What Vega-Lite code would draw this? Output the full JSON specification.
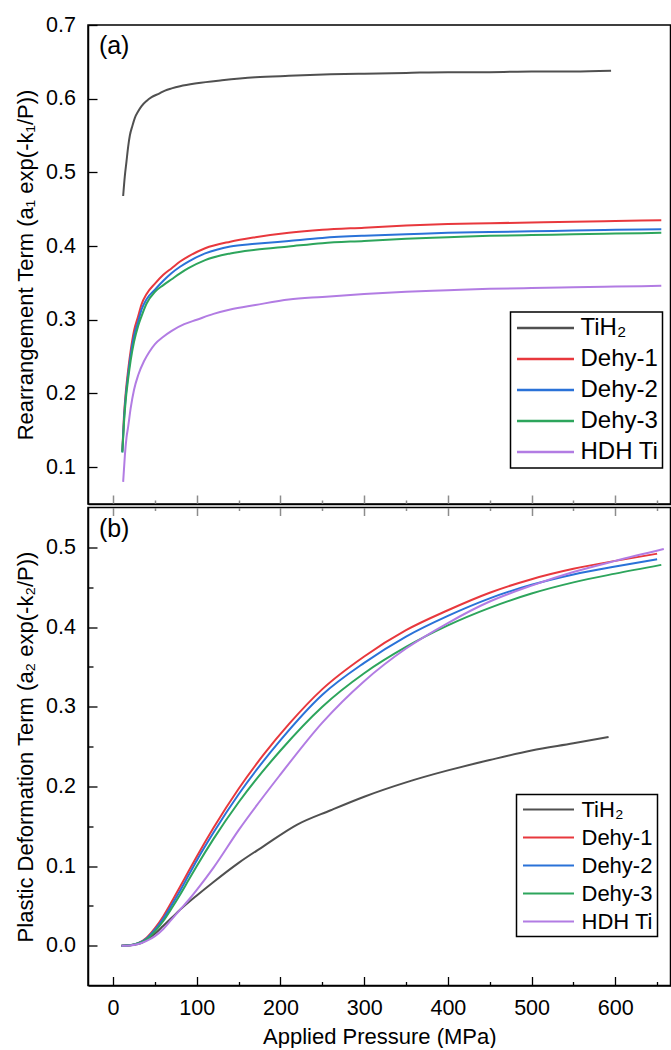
{
  "$schema": "https://vega.github.io/schema/vega-lite/v6.json",
  "background": "white",
  "padding": {"left": 13, "top": 13, "right": 0, "bottom": 0},
  "bounds": "flush",
  "spacing": 3.5,
  "datasets": {
    "a": [
      {"p": 12, "v": 0.468, "s": "TiH₂"}, {"p": 14, "v": 0.495, "s": "TiH₂"}, {"p": 16, "v": 0.515, "s": "TiH₂"}, {"p": 18, "v": 0.535, "s": "TiH₂"}, {"p": 20, "v": 0.55, "s": "TiH₂"}, {"p": 23, "v": 0.563, "s": "TiH₂"}, {"p": 26, "v": 0.574, "s": "TiH₂"}, {"p": 30, "v": 0.583, "s": "TiH₂"}, {"p": 34, "v": 0.59, "s": "TiH₂"}, {"p": 40, "v": 0.597, "s": "TiH₂"}, {"p": 46, "v": 0.602, "s": "TiH₂"}, {"p": 55, "v": 0.607, "s": "TiH₂"}, {"p": 62, "v": 0.611, "s": "TiH₂"}, {"p": 70, "v": 0.614, "s": "TiH₂"}, {"p": 80, "v": 0.617, "s": "TiH₂"}, {"p": 100, "v": 0.621, "s": "TiH₂"}, {"p": 130, "v": 0.625, "s": "TiH₂"}, {"p": 170, "v": 0.629, "s": "TiH₂"}, {"p": 210, "v": 0.631, "s": "TiH₂"}, {"p": 260, "v": 0.633, "s": "TiH₂"}, {"p": 300, "v": 0.634, "s": "TiH₂"}, {"p": 350, "v": 0.635, "s": "TiH₂"}, {"p": 400, "v": 0.636, "s": "TiH₂"}, {"p": 450, "v": 0.636, "s": "TiH₂"}, {"p": 500, "v": 0.637, "s": "TiH₂"}, {"p": 550, "v": 0.637, "s": "TiH₂"}, {"p": 595, "v": 0.638, "s": "TiH₂"},
      {"p": 11, "v": 0.122, "s": "Dehy-1"}, {"p": 13, "v": 0.17, "s": "Dehy-1"}, {"p": 15, "v": 0.2, "s": "Dehy-1"}, {"p": 18, "v": 0.232, "s": "Dehy-1"}, {"p": 21, "v": 0.258, "s": "Dehy-1"}, {"p": 25, "v": 0.285, "s": "Dehy-1"}, {"p": 30, "v": 0.305, "s": "Dehy-1"}, {"p": 34, "v": 0.321, "s": "Dehy-1"}, {"p": 40, "v": 0.335, "s": "Dehy-1"}, {"p": 50, "v": 0.349, "s": "Dehy-1"}, {"p": 60, "v": 0.361, "s": "Dehy-1"}, {"p": 70, "v": 0.37, "s": "Dehy-1"}, {"p": 80, "v": 0.379, "s": "Dehy-1"}, {"p": 90, "v": 0.386, "s": "Dehy-1"}, {"p": 110, "v": 0.397, "s": "Dehy-1"}, {"p": 140, "v": 0.406, "s": "Dehy-1"}, {"p": 170, "v": 0.412, "s": "Dehy-1"}, {"p": 210, "v": 0.418, "s": "Dehy-1"}, {"p": 250, "v": 0.422, "s": "Dehy-1"}, {"p": 300, "v": 0.425, "s": "Dehy-1"}, {"p": 350, "v": 0.428, "s": "Dehy-1"}, {"p": 400, "v": 0.43, "s": "Dehy-1"}, {"p": 450, "v": 0.431, "s": "Dehy-1"}, {"p": 500, "v": 0.432, "s": "Dehy-1"}, {"p": 550, "v": 0.433, "s": "Dehy-1"}, {"p": 600, "v": 0.434, "s": "Dehy-1"}, {"p": 655, "v": 0.435, "s": "Dehy-1"},
      {"p": 11, "v": 0.12, "s": "Dehy-2"}, {"p": 13, "v": 0.165, "s": "Dehy-2"}, {"p": 15, "v": 0.195, "s": "Dehy-2"}, {"p": 18, "v": 0.226, "s": "Dehy-2"}, {"p": 21, "v": 0.252, "s": "Dehy-2"}, {"p": 25, "v": 0.278, "s": "Dehy-2"}, {"p": 30, "v": 0.298, "s": "Dehy-2"}, {"p": 34, "v": 0.314, "s": "Dehy-2"}, {"p": 40, "v": 0.328, "s": "Dehy-2"}, {"p": 50, "v": 0.341, "s": "Dehy-2"}, {"p": 60, "v": 0.353, "s": "Dehy-2"}, {"p": 70, "v": 0.3635, "s": "Dehy-2"}, {"p": 80, "v": 0.372, "s": "Dehy-2"}, {"p": 90, "v": 0.379, "s": "Dehy-2"}, {"p": 110, "v": 0.39, "s": "Dehy-2"}, {"p": 140, "v": 0.3995, "s": "Dehy-2"}, {"p": 170, "v": 0.403, "s": "Dehy-2"}, {"p": 210, "v": 0.407, "s": "Dehy-2"}, {"p": 250, "v": 0.411, "s": "Dehy-2"}, {"p": 300, "v": 0.414, "s": "Dehy-2"}, {"p": 350, "v": 0.416, "s": "Dehy-2"}, {"p": 400, "v": 0.418, "s": "Dehy-2"}, {"p": 450, "v": 0.419, "s": "Dehy-2"}, {"p": 500, "v": 0.42, "s": "Dehy-2"}, {"p": 550, "v": 0.421, "s": "Dehy-2"}, {"p": 600, "v": 0.422, "s": "Dehy-2"}, {"p": 655, "v": 0.423, "s": "Dehy-2"},
      {"p": 11, "v": 0.12, "s": "Dehy-3"}, {"p": 13, "v": 0.16, "s": "Dehy-3"}, {"p": 15, "v": 0.19, "s": "Dehy-3"}, {"p": 18, "v": 0.22, "s": "Dehy-3"}, {"p": 21, "v": 0.245, "s": "Dehy-3"}, {"p": 25, "v": 0.27, "s": "Dehy-3"}, {"p": 30, "v": 0.292, "s": "Dehy-3"}, {"p": 34, "v": 0.305, "s": "Dehy-3"}, {"p": 40, "v": 0.322, "s": "Dehy-3"}, {"p": 50, "v": 0.338, "s": "Dehy-3"}, {"p": 60, "v": 0.347, "s": "Dehy-3"}, {"p": 70, "v": 0.355, "s": "Dehy-3"}, {"p": 80, "v": 0.363, "s": "Dehy-3"}, {"p": 90, "v": 0.37, "s": "Dehy-3"}, {"p": 110, "v": 0.381, "s": "Dehy-3"}, {"p": 140, "v": 0.39, "s": "Dehy-3"}, {"p": 170, "v": 0.395, "s": "Dehy-3"}, {"p": 210, "v": 0.3995, "s": "Dehy-3"}, {"p": 250, "v": 0.404, "s": "Dehy-3"}, {"p": 300, "v": 0.407, "s": "Dehy-3"}, {"p": 350, "v": 0.41, "s": "Dehy-3"}, {"p": 400, "v": 0.412, "s": "Dehy-3"}, {"p": 450, "v": 0.414, "s": "Dehy-3"}, {"p": 500, "v": 0.415, "s": "Dehy-3"}, {"p": 550, "v": 0.416, "s": "Dehy-3"}, {"p": 600, "v": 0.417, "s": "Dehy-3"}, {"p": 655, "v": 0.418, "s": "Dehy-3"},
      {"p": 12, "v": 0.08, "s": "HDH Ti"}, {"p": 14, "v": 0.115, "s": "HDH Ti"}, {"p": 16, "v": 0.14, "s": "HDH Ti"}, {"p": 18, "v": 0.155, "s": "HDH Ti"}, {"p": 21, "v": 0.18, "s": "HDH Ti"}, {"p": 25, "v": 0.205, "s": "HDH Ti"}, {"p": 30, "v": 0.225, "s": "HDH Ti"}, {"p": 37, "v": 0.244, "s": "HDH Ti"}, {"p": 43, "v": 0.256, "s": "HDH Ti"}, {"p": 50, "v": 0.267, "s": "HDH Ti"}, {"p": 60, "v": 0.277, "s": "HDH Ti"}, {"p": 70, "v": 0.285, "s": "HDH Ti"}, {"p": 85, "v": 0.294, "s": "HDH Ti"}, {"p": 100, "v": 0.3, "s": "HDH Ti"}, {"p": 120, "v": 0.308, "s": "HDH Ti"}, {"p": 140, "v": 0.314, "s": "HDH Ti"}, {"p": 170, "v": 0.32, "s": "HDH Ti"}, {"p": 210, "v": 0.3275, "s": "HDH Ti"}, {"p": 250, "v": 0.331, "s": "HDH Ti"}, {"p": 300, "v": 0.335, "s": "HDH Ti"}, {"p": 350, "v": 0.338, "s": "HDH Ti"}, {"p": 400, "v": 0.34, "s": "HDH Ti"}, {"p": 450, "v": 0.342, "s": "HDH Ti"}, {"p": 500, "v": 0.343, "s": "HDH Ti"}, {"p": 550, "v": 0.344, "s": "HDH Ti"}, {"p": 600, "v": 0.345, "s": "HDH Ti"}, {"p": 655, "v": 0.346, "s": "HDH Ti"}
    ],
    "b": [
      {"p": 10, "v": 0, "s": "TiH₂"}, {"p": 20, "v": 0.0005, "s": "TiH₂"}, {"p": 30, "v": 0.002, "s": "TiH₂"}, {"p": 40, "v": 0.007, "s": "TiH₂"}, {"p": 50, "v": 0.015, "s": "TiH₂"}, {"p": 60, "v": 0.025, "s": "TiH₂"}, {"p": 70, "v": 0.035, "s": "TiH₂"}, {"p": 80, "v": 0.045, "s": "TiH₂"}, {"p": 100, "v": 0.063, "s": "TiH₂"}, {"p": 120, "v": 0.08, "s": "TiH₂"}, {"p": 150, "v": 0.104, "s": "TiH₂"}, {"p": 180, "v": 0.125, "s": "TiH₂"}, {"p": 220, "v": 0.152, "s": "TiH₂"}, {"p": 260, "v": 0.17, "s": "TiH₂"}, {"p": 300, "v": 0.187, "s": "TiH₂"}, {"p": 350, "v": 0.205, "s": "TiH₂"}, {"p": 400, "v": 0.22, "s": "TiH₂"}, {"p": 450, "v": 0.233, "s": "TiH₂"}, {"p": 500, "v": 0.245, "s": "TiH₂"}, {"p": 550, "v": 0.254, "s": "TiH₂"}, {"p": 592, "v": 0.262, "s": "TiH₂"},
      {"p": 10, "v": 0, "s": "Dehy-1"}, {"p": 20, "v": 0.0005, "s": "Dehy-1"}, {"p": 30, "v": 0.003, "s": "Dehy-1"}, {"p": 40, "v": 0.01, "s": "Dehy-1"}, {"p": 50, "v": 0.022, "s": "Dehy-1"}, {"p": 60, "v": 0.037, "s": "Dehy-1"}, {"p": 70, "v": 0.055, "s": "Dehy-1"}, {"p": 80, "v": 0.074, "s": "Dehy-1"}, {"p": 90, "v": 0.093, "s": "Dehy-1"}, {"p": 100, "v": 0.112, "s": "Dehy-1"}, {"p": 120, "v": 0.148, "s": "Dehy-1"}, {"p": 150, "v": 0.197, "s": "Dehy-1"}, {"p": 180, "v": 0.24, "s": "Dehy-1"}, {"p": 210, "v": 0.278, "s": "Dehy-1"}, {"p": 250, "v": 0.322, "s": "Dehy-1"}, {"p": 300, "v": 0.363, "s": "Dehy-1"}, {"p": 350, "v": 0.396, "s": "Dehy-1"}, {"p": 400, "v": 0.421, "s": "Dehy-1"}, {"p": 450, "v": 0.443, "s": "Dehy-1"}, {"p": 500, "v": 0.46, "s": "Dehy-1"}, {"p": 550, "v": 0.473, "s": "Dehy-1"}, {"p": 600, "v": 0.483, "s": "Dehy-1"}, {"p": 650, "v": 0.492, "s": "Dehy-1"},
      {"p": 10, "v": 0, "s": "Dehy-2"}, {"p": 20, "v": 0.0005, "s": "Dehy-2"}, {"p": 30, "v": 0.003, "s": "Dehy-2"}, {"p": 40, "v": 0.009, "s": "Dehy-2"}, {"p": 50, "v": 0.02, "s": "Dehy-2"}, {"p": 60, "v": 0.034, "s": "Dehy-2"}, {"p": 70, "v": 0.051, "s": "Dehy-2"}, {"p": 80, "v": 0.069, "s": "Dehy-2"}, {"p": 90, "v": 0.088, "s": "Dehy-2"}, {"p": 100, "v": 0.107, "s": "Dehy-2"}, {"p": 120, "v": 0.142, "s": "Dehy-2"}, {"p": 150, "v": 0.19, "s": "Dehy-2"}, {"p": 200, "v": 0.258, "s": "Dehy-2"}, {"p": 250, "v": 0.315, "s": "Dehy-2"}, {"p": 300, "v": 0.355, "s": "Dehy-2"}, {"p": 350, "v": 0.388, "s": "Dehy-2"}, {"p": 400, "v": 0.414, "s": "Dehy-2"}, {"p": 450, "v": 0.436, "s": "Dehy-2"}, {"p": 500, "v": 0.453, "s": "Dehy-2"}, {"p": 550, "v": 0.466, "s": "Dehy-2"}, {"p": 600, "v": 0.476, "s": "Dehy-2"}, {"p": 650, "v": 0.485, "s": "Dehy-2"},
      {"p": 10, "v": 0, "s": "Dehy-3"}, {"p": 20, "v": 0.0005, "s": "Dehy-3"}, {"p": 30, "v": 0.003, "s": "Dehy-3"}, {"p": 40, "v": 0.008, "s": "Dehy-3"}, {"p": 50, "v": 0.018, "s": "Dehy-3"}, {"p": 60, "v": 0.031, "s": "Dehy-3"}, {"p": 70, "v": 0.047, "s": "Dehy-3"}, {"p": 80, "v": 0.064, "s": "Dehy-3"}, {"p": 90, "v": 0.082, "s": "Dehy-3"}, {"p": 100, "v": 0.1, "s": "Dehy-3"}, {"p": 120, "v": 0.134, "s": "Dehy-3"}, {"p": 150, "v": 0.18, "s": "Dehy-3"}, {"p": 200, "v": 0.245, "s": "Dehy-3"}, {"p": 250, "v": 0.3, "s": "Dehy-3"}, {"p": 300, "v": 0.342, "s": "Dehy-3"}, {"p": 350, "v": 0.375, "s": "Dehy-3"}, {"p": 400, "v": 0.402, "s": "Dehy-3"}, {"p": 450, "v": 0.424, "s": "Dehy-3"}, {"p": 500, "v": 0.442, "s": "Dehy-3"}, {"p": 550, "v": 0.456, "s": "Dehy-3"}, {"p": 600, "v": 0.467, "s": "Dehy-3"}, {"p": 655, "v": 0.478, "s": "Dehy-3"},
      {"p": 10, "v": 0, "s": "HDH Ti"}, {"p": 20, "v": 0.0003, "s": "HDH Ti"}, {"p": 30, "v": 0.002, "s": "HDH Ti"}, {"p": 40, "v": 0.006, "s": "HDH Ti"}, {"p": 50, "v": 0.012, "s": "HDH Ti"}, {"p": 60, "v": 0.021, "s": "HDH Ti"}, {"p": 70, "v": 0.033, "s": "HDH Ti"}, {"p": 80, "v": 0.045, "s": "HDH Ti"}, {"p": 90, "v": 0.057, "s": "HDH Ti"}, {"p": 100, "v": 0.07, "s": "HDH Ti"}, {"p": 120, "v": 0.098, "s": "HDH Ti"}, {"p": 150, "v": 0.145, "s": "HDH Ti"}, {"p": 200, "v": 0.215, "s": "HDH Ti"}, {"p": 250, "v": 0.28, "s": "HDH Ti"}, {"p": 300, "v": 0.332, "s": "HDH Ti"}, {"p": 350, "v": 0.373, "s": "HDH Ti"}, {"p": 400, "v": 0.405, "s": "HDH Ti"}, {"p": 450, "v": 0.432, "s": "HDH Ti"}, {"p": 500, "v": 0.452, "s": "HDH Ti"}, {"p": 550, "v": 0.469, "s": "HDH Ti"}, {"p": 600, "v": 0.483, "s": "HDH Ti"}, {"p": 658, "v": 0.498, "s": "HDH Ti"}
    ],
    "la": [{"t": "(a)", "p": -17, "v": 0.671}],
    "lb": [{"t": "(b)", "p": -17, "v": 0.523}]
  },
  "vconcat": [
    {
      "width": 582.5,
      "height": 479,
      "layer": [
        {
          "data": {"name": "a"},
          "mark": {"type": "line", "strokeWidth": 2, "interpolate": "monotone"},
          "encoding": {
            "x": {"field": "p", "type": "quantitative", "scale": {"domain": [-30, 666], "nice": false, "zero": false},
              "axis": {"orient": "bottom", "title": null, "labels": false, "values": [0, 50, 100, 150, 200, 250, 300, 350, 400, 450, 500, 550, 600, 650],
                "tickColor": "#8c8c8c", "tickWidth": 1.5,
                "tickSize": {"condition": {"test": "datum.value % 100 == 0", "value": -9}, "value": -4}}},
            "y": {"field": "v", "type": "quantitative", "scale": {"domain": [0.05, 0.7], "nice": false, "zero": false},
              "axis": {"title": "Rearrangement Term (a₁ exp(-k₁/P))", "titlePadding": 8,
                "values": [0.1, 0.15, 0.2, 0.25, 0.3, 0.35, 0.4, 0.45, 0.5, 0.55, 0.6, 0.65, 0.7],
                "labelExpr": "round(datum.value*100) % 10 == 0 ? format(datum.value, '.1f') : ''",
                "labelPadding": 21.5,
                "tickSize": {"condition": {"test": "round(datum.value*100) % 10 == 0", "value": -9}, "value": -5}}},
            "color": {"field": "s", "type": "nominal",
              "scale": {"domain": ["TiH₂", "Dehy-1", "Dehy-2", "Dehy-3", "HDH Ti"], "range": ["#505050", "#e8383d", "#2a72d8", "#2da55c", "#b27ce3"]},
              "legend": {"orient": "none", "legendX": 422.5, "legendY": 287, "title": null, "labelFontSize": 24, "symbolType": "M-1,0H5", "symbolSize": 361, "symbolStrokeWidth": 2.5, "rowPadding": 7, "padding": 4, "labelOffset": 42, "strokeColor": "black",
                "encode": {"legend": {"update": {"strokeWidth": {"value": 1.5}}}}}}
          }
        },
        {
          "data": {"name": "la"},
          "mark": {"type": "text", "align": "left", "baseline": "middle", "fontSize": 25, "font": "Liberation Sans"},
          "encoding": {
            "x": {"field": "p", "type": "quantitative"},
            "y": {"field": "v", "type": "quantitative"},
            "text": {"field": "t"}
          }
        }
      ]
    },
    {
      "width": 582.5,
      "height": 478,
      "layer": [
        {
          "data": {"name": "b"},
          "mark": {"type": "line", "strokeWidth": 2, "interpolate": "monotone"},
          "encoding": {
            "x": {"field": "p", "type": "quantitative", "scale": {"domain": [-30, 666], "nice": false, "zero": false},
              "axis": {"orient": "bottom", "title": "Applied Pressure (MPa)", "titlePadding": 2, "values": [0, 50, 100, 150, 200, 250, 300, 350, 400, 450, 500, 550, 600, 650],
                "labelExpr": "datum.value % 100 == 0 ? format(datum.value, 'd') : ''", "labelPadding": 21,
                "tickSize": {"condition": {"test": "datum.value % 100 == 0", "value": -9}, "value": -4}}},
            "y": {"field": "v", "type": "quantitative", "scale": {"domain": [-0.05, 0.55], "nice": false, "zero": false},
              "axis": {"title": "Plastic Deformation Term (a₂ exp(-k₂/P))", "titlePadding": 8,
                "values": [0, 0.05, 0.1, 0.15, 0.2, 0.25, 0.3, 0.35, 0.4, 0.45, 0.5],
                "labelExpr": "round(datum.value*100) % 10 == 0 ? format(datum.value, '.1f') : ''",
                "labelPadding": 21.5,
                "tickSize": {"condition": {"test": "round(datum.value*100) % 10 == 0", "value": -9}, "value": -5}}},
            "color": {"field": "s", "type": "nominal",
              "scale": {"domain": ["TiH₂", "Dehy-1", "Dehy-2", "Dehy-3", "HDH Ti"], "range": ["#505050", "#e8383d", "#2a72d8", "#2da55c", "#b27ce3"]},
              "legend": {"orient": "none", "legendX": 428.5, "legendY": 287, "title": null, "labelFontSize": 22, "symbolType": "M-1,0H5", "symbolSize": 289, "symbolStrokeWidth": 2, "rowPadding": 6, "padding": 4, "labelOffset": 39, "strokeColor": "black",
                "encode": {"legend": {"update": {"strokeWidth": {"value": 1.5}}}}}}
          }
        },
        {
          "data": {"name": "lb"},
          "mark": {"type": "text", "align": "left", "baseline": "middle", "fontSize": 25, "font": "Liberation Sans"},
          "encoding": {
            "x": {"field": "p", "type": "quantitative",
              "axis": {"orient": "top", "title": null, "labels": false, "domain": false, "values": [0, 50, 100, 150, 200, 250, 300, 350, 400, 450, 500, 550, 600, 650],
                "tickColor": "#8c8c8c", "tickWidth": 1.5,
                "tickSize": {"condition": {"test": "datum.value % 100 == 0", "value": -8}, "value": -3}}},
            "y": {"field": "v", "type": "quantitative", "title": "Plastic Deformation Term (a₂ exp(-k₂/P))"},
            "text": {"field": "t"}
          }
        }
      ],
      "resolve": {"axis": {"x": "independent"}}
    }
  ],
  "resolve": {"scale": {"color": "independent"}, "legend": {"color": "independent"}},
  "config": {
    "font": "Liberation Sans",
    "view": {"stroke": "black", "strokeWidth": 1.5},
    "axis": {"labelFont": "Liberation Sans", "labelFontSize": 21.5, "labelColor": "black", "titleFont": "Liberation Sans", "titleFontSize": 22, "titleFontWeight": "normal", "titleColor": "black", "domainColor": "black", "domainWidth": 1.5, "tickColor": "black", "tickWidth": 1.3, "grid": false, "labelOverlap": false, "labelFlush": false, "labelBound": false},
    "legend": {"labelFont": "Liberation Sans", "labelColor": "black", "fillColor": "white"},
    "text": {"color": "black"}
  }
}
